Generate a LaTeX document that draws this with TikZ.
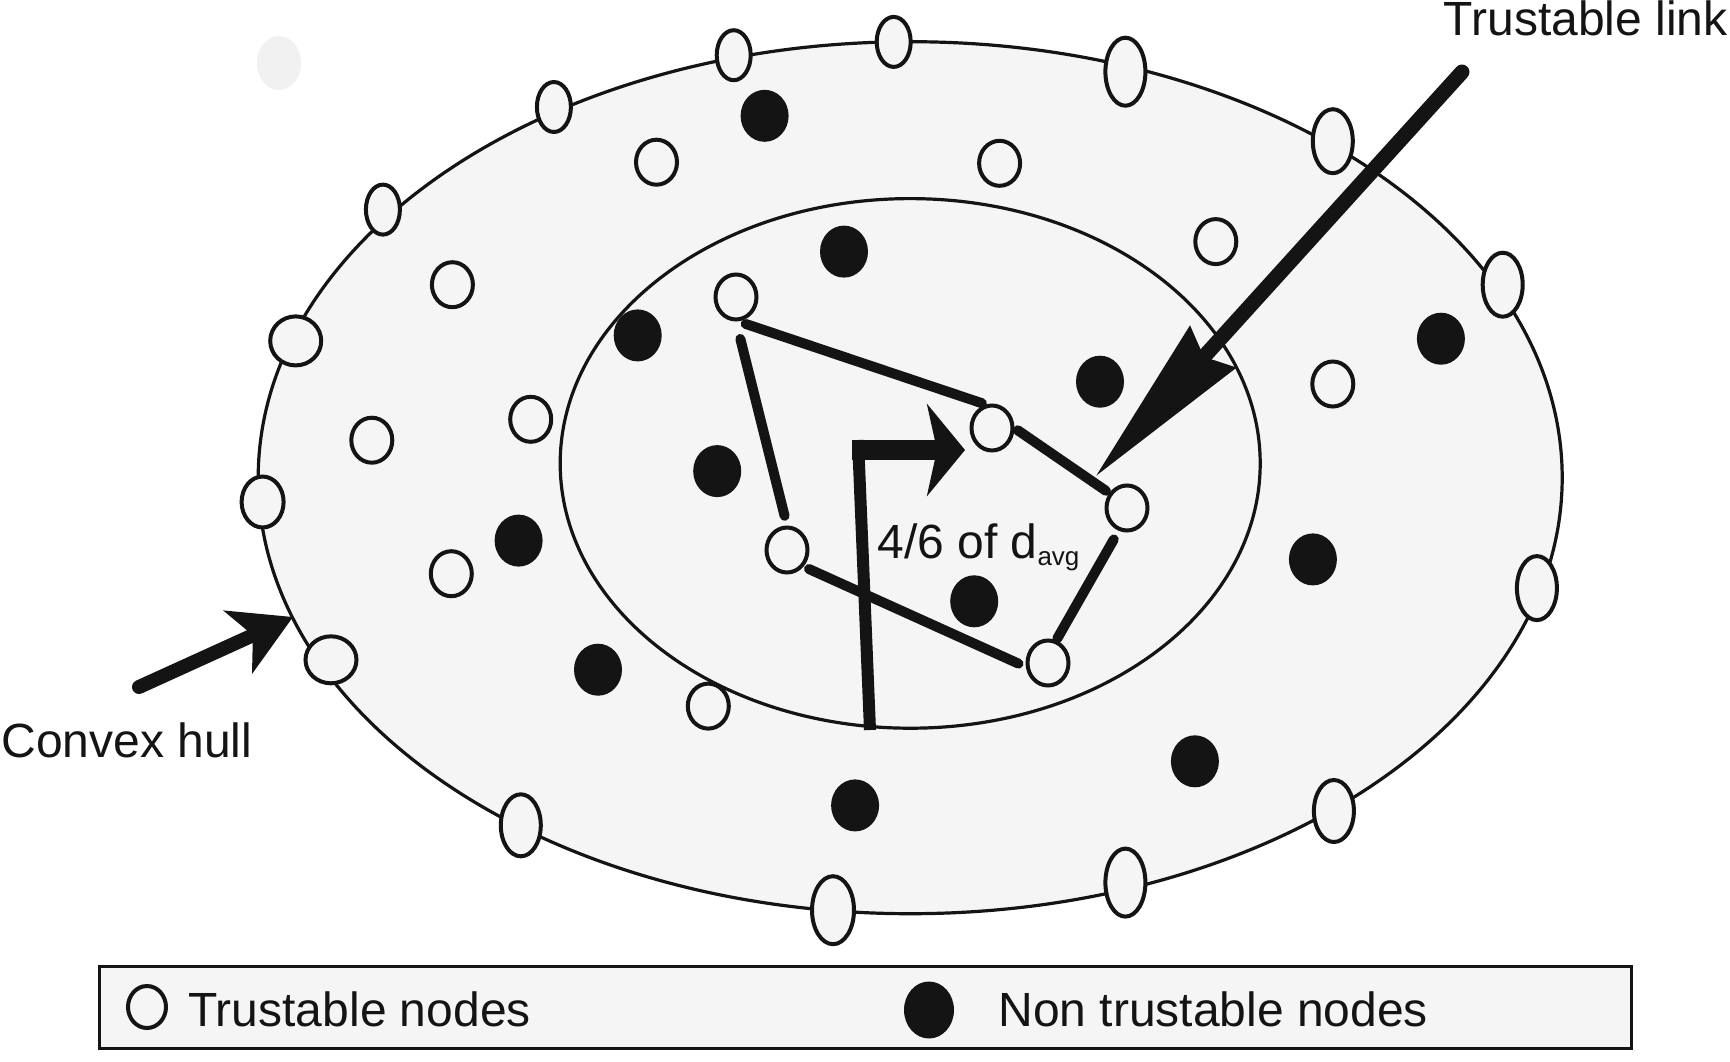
\documentclass[tikz,border=0pt]{standalone}
\usepackage{fontspec}
\setmainfont{Liberation Sans}
\usetikzlibrary{shapes.geometric,arrows.meta}
\definecolor{hullfill}{HTML}{F5F5F5}
\definecolor{dotblack}{HTML}{141414}
\definecolor{blobgray}{HTML}{F1F1F1}
\begin{document}
\begin{tikzpicture}[x=0.5pt,y=-0.5pt,
  wnode/.style={ellipse,draw=dotblack,line width=2pt,fill=hullfill,inner sep=0pt,minimum width=20.5pt,minimum height=22.5pt},
  hn/.style 2 args={wnode,minimum width=#1,minimum height=#2},
  bnode/.style={ellipse,fill=dotblack,inner sep=0pt,minimum width=24pt,minimum height=26pt},
  link/.style={line width=5pt,line cap=round,draw=dotblack},
  hullline/.style={line width=1.6pt,draw=dotblack,fill=hullfill},
  lbl/.style={font=\fontsize{24}{28}\selectfont,inner sep=0pt,anchor=base west,text=dotblack},
  pointer/.style={draw=dotblack,line cap=round}
]
\useasboundingbox (0,0) rectangle (1730,1061);
\fill[white] (0,0) rectangle (1730,1061);
% faint blob
\fill[blobgray] (279,63) ellipse [x radius=11pt, y radius=13.5pt];
% hulls
\draw[hullline] (910.2,477.7) ellipse [x radius=326pt, y radius=218pt];
\draw[hullline] (910.2,463.4) ellipse [x radius=175pt, y radius=132.4pt];
% hull nodes
\node[hn={17pt}{25pt}] (h1) at (733.7,55.2) {};
\node[hn={17pt}{25pt}] (h2) at (893.7,41.9) {};
\node[hn={20pt}{34pt}] (h3) at (1125.4,71.7) {};
\node[hn={20pt}{32pt}] (h4) at (1332.8,141.2) {};
\node[hn={20pt}{32pt}] (h5) at (1502.7,284.7) {};
\node[hn={20pt}{32pt}] (h6) at (1536.9,588.1) {};
\node[hn={20pt}{31pt}] (h7) at (1333.9,811.0) {};
\node[hn={20pt}{34pt}] (h8) at (1125.4,882.6) {};
\node[hn={21pt}{34pt}] (h9) at (833.0,910.2) {};
\node[hn={20pt}{31pt}] (h10) at (520.8,825.3) {};
\node[hn={25.5pt}{23.5pt}] (h11) at (331.0,659.8) {};
\node[hn={21pt}{25.5pt}] (h12) at (262.6,502.0) {};
\node[hn={25.5pt}{24.5pt}] (h13) at (295.7,340.9) {};
\node[hn={17pt}{25pt}] (h14) at (382.9,209.6) {};
\node[hn={17pt}{25pt}] (h15) at (553.9,107.0) {};
% interior trustable nodes
\node[wnode] (t1) at (656.5,162.2) {};
\node[wnode] (t2) at (999.6,163.3) {};
\node[wnode] (t3) at (1215.8,241.6) {};
\node[wnode] (t4) at (452.4,284.7) {};
\node[wnode] (t5) at (1332.8,384.0) {};
\node[wnode] (t6) at (371.8,440.2) {};
\node[wnode] (t7) at (530.7,419.3) {};
\node[wnode] (t8) at (451.3,573.7) {};
\node[wnode] (t9) at (708.3,706.1) {};
\node[wnode] (A) at (736,297) {};
\node[wnode] (B) at (992,428) {};
\node[wnode] (C) at (1127,508) {};
\node[wnode] (D) at (787,550) {};
\node[wnode] (E) at (1048,663) {};
% non trustable nodes
\node[bnode] (k1) at (764.6,115.8) {};
\node[bnode] (k2) at (844.0,251.6) {};
\node[bnode] (k3) at (637.7,335.4) {};
\node[bnode] (k4) at (1100.0,381.7) {};
\node[bnode] (k5) at (1440.9,338.7) {};
\node[bnode] (k6) at (717.2,471.1) {};
\node[bnode] (k7) at (518.6,540.6) {};
\node[bnode] (k8) at (1312.9,559.4) {};
\node[bnode] (k9) at (974.2,601.3) {};
\node[bnode] (k10) at (598.0,669.7) {};
\node[bnode] (k11) at (1194.9,761.3) {};
\node[bnode] (k12) at (855.1,805.4) {};
% trustable links
\draw[link,shorten <=4pt,shorten >=2pt] (A.-85) -- (B.105);
\draw[link,shorten <=9pt,shorten >=5pt] (A.south) -- (D.north);
\draw[link,shorten <=3pt,shorten >=4pt] (D.-45) -- (E.190);
\draw[link,shorten <=2pt,shorten >=2pt] (B.0) -- (C.140);
\draw[link,shorten <=5pt,shorten >=1pt] (C.-110) -- (E.70);
% distance indicator
\coordinate (Lbot) at (870,730);
\coordinate (Lcorner) at (858,440);
\coordinate (Lstart) at (852,450);
\coordinate (Ltip) at (965,450);
\draw[draw=dotblack,line width=6pt] (Lbot) -- (Lcorner);
\draw[draw=dotblack,line width=10pt,-{Stealth[length=19pt,width=46pt,inset=5pt]}] (Lstart) -- (Ltip);
\node[lbl] (dlabel) at (877,558) {4/6 of d\raisebox{-3.5pt}{\fontsize{13}{13}\selectfont avg}};
% trustable link pointer
\coordinate (TLtail) at (1462,72);
\coordinate (TLtip) at (1095,477);
\draw[pointer,line width=7.5pt,-{Stealth[length=87pt,width=30pt,inset=6pt]}] (TLtail) -- (TLtip);
\node[lbl,anchor=base east] (tltext) at (1728,35) {Trustable link};
% convex hull pointer
\coordinate (CHtail) at (139,687);
\coordinate (CHtip) at (293,617);
\draw[pointer,line width=7pt,-{Stealth[length=30pt,width=34pt,inset=8pt]}] (CHtail) -- (CHtip);
\node[lbl] (chtext) at (1,757) {Convex hull};
% legend
\node[draw=dotblack,line width=1.5pt,fill=hullfill,minimum width=766pt,minimum height=41pt,inner sep=0pt] (legend) at (865,1007) {};
\node[wnode,minimum width=19pt,minimum height=21pt] (lw) at (147,1007) {};
\node[lbl] (lwtext) at (188,1026) {Trustable nodes};
\node[bnode,minimum width=25pt,minimum height=28.5pt] (lb) at (929,1010) {};
\node[lbl] (lbtext) at (998,1026) {Non trustable nodes};
\end{tikzpicture}
\end{document}
